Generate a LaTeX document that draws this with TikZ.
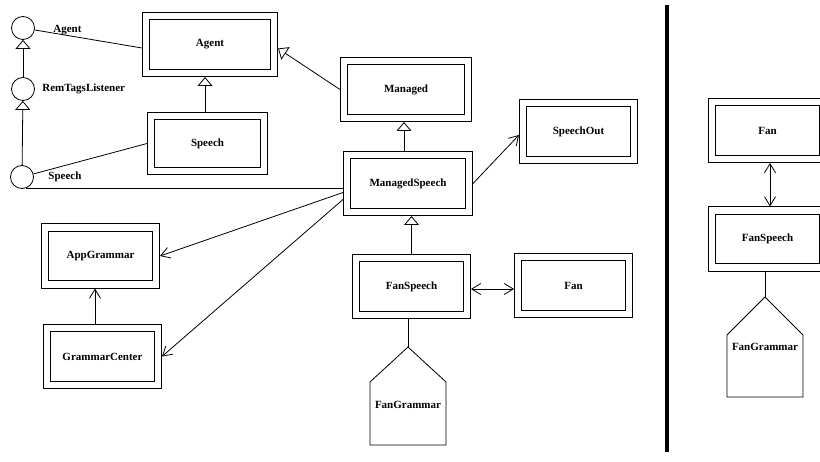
\documentclass[tikz,border=0pt]{standalone}
\usepackage{fontspec}
\setmainfont{Liberation Serif}
\usetikzlibrary{arrows.meta}

\begin{document}
\begin{tikzpicture}[
    x = 1pt, y = -1pt,
    line width = 0.8pt,
    font = \fontsize{11}{13}\selectfont\bfseries,
    cls/.style = {
      draw,
      double,
      double distance = 6.5pt,
      minimum width = 111pt,
      minimum height = 57pt,
      outer sep = 4pt
    },
    iface/.style = {
      draw,
      circle,
      inner sep = 0pt,
      minimum size = 23pt
    },
    lbl/.style = {anchor = west, inner sep = 0pt},
    inherit/.style = {-{Triangle[open, length = 9pt, width = 15pt]}},
    uses/.style = {-{Straight Barb[length = 9pt, width = 11pt]}},
    link/.style = {{Straight Barb[length = 9pt, width = 11pt]}-{Straight Barb[length = 9pt, width = 11pt]}}
  ]
  \clip (0,0) rectangle (820,462);

  % interfaces
  \node[iface] (iagent)  at (23,28)  {};
  \node[iface] (irem)    at (23,89)  {};
  \node[iface] (ispeech) at (22,177) {};

  \node[lbl] (lagent)  at (53,30)  {Agent};
  \node[lbl] (lrem)    at (42,89)  {RemTagsListener};
  \node[lbl] (lspeech) at (48,177) {Speech};

  % classes
  \node[cls, minimum width = 128pt] (agent)   at (210,44.5)  {Agent};
  \node[cls, minimum width = 113pt, minimum height = 55pt] (speech) at (207.5,143.5) {Speech};
  \node[cls, minimum width = 124pt] (managed) at (406,89.5)  {Managed};
  \node[cls, minimum width = 122pt] (mspeech) at (408,183.5) {ManagedSpeech};
  \node[cls] (speechout)  at (578.5,131.5) {SpeechOut};
  \node[cls] (appgrammar) at (100.5,256)   {AppGrammar};
  \node[cls] (gcenter)    at (102.5,356.5) {GrammarCenter};
  \node[cls] (fanspeech)  at (411.5,286.5) {FanSpeech};
  \node[cls] (fan)        at (573.5,285.5) {Fan};

  \coordinate (fgtop) at (408,347);
  \draw (fgtop) -- ++(38,35) -- ++(0,63) -- ++(-76,0) -- ++(0,-63) -- cycle;
  \node (fangrammar) at (408,405) {FanGrammar};

  % connectors
  \draw[inherit] (irem) -- (iagent);
  \draw[inherit] (ispeech) -- (irem);
  \draw (iagent) -- ([yshift=-3.5pt]agent.west);
  \draw (ispeech) -- (speech.west);
  \draw (ispeech.-70) -- (ispeech.-70 -| mspeech.west);

  \draw[inherit] ([xshift=-2.5pt]speech.north) -- ([xshift=-2.5pt]speech.north |- agent.south);
  \draw[inherit] (managed.west) -- ([yshift=-4pt]agent.east);
  \draw[inherit] ([xshift=-4pt]mspeech.north) -- ([xshift=-4pt]mspeech.north |- managed.south);
  \draw[uses] (mspeech.east) -- ([yshift=-3.5pt]speechout.west);
  \draw[uses] ([yshift=-9pt]mspeech.west) -- (appgrammar.east);
  \draw[uses] ([yshift=-16pt]mspeech.west) -- (gcenter.east);
  \draw[uses] ([xshift=-7.5pt]gcenter.north) -- ([xshift=-7.5pt]gcenter.north |- appgrammar.south);
  \draw[inherit] (fanspeech.north) -- (fanspeech.north |- mspeech.south);
  \draw[link] ([yshift=-2.5pt]fanspeech.east) -- ([yshift=-2.5pt]fanspeech.east -| fan.west);
  \draw (fanspeech.south -| fgtop) -- (fgtop);

  % separator
  \draw[line width = 3.5pt] (667,5) -- (667,452);

  % right part
  \node[cls] (fanR)       at (767.5,130.5) {Fan};
  \node[cls] (fanspeechR) at (767.5,239)   {FanSpeech};

  \coordinate (fgtopR) at (765,297);
  \draw (fgtopR) -- ++(38,38) -- ++(0,62) -- ++(-76,0) -- ++(0,-62) -- cycle;
  \node (fangrammarR) at (765,347) {FanGrammar};

  \draw[link] ([xshift=2.5pt]fanR.south) -- ([xshift=2.5pt]fanR.south |- fanspeechR.north);
  \draw (fanspeechR.south -| fgtopR) -- (fgtopR);
\end{tikzpicture}
\end{document}
